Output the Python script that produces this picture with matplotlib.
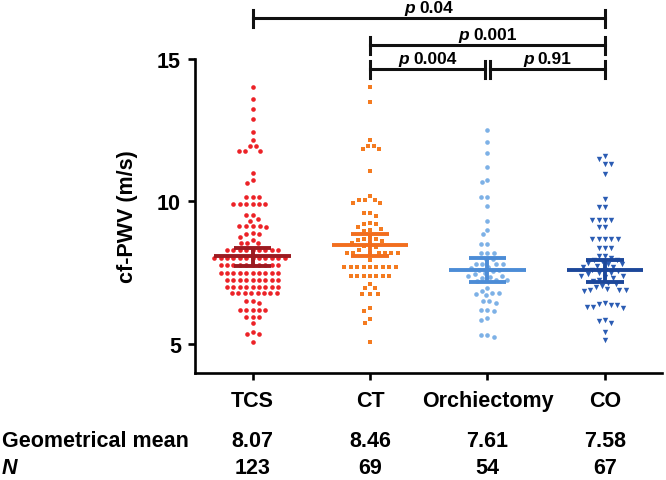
import numpy as np
import matplotlib
matplotlib.use("Agg")
import matplotlib.pyplot as plt
import matplotlib.transforms as mtransforms
from matplotlib.lines import Line2D

plt.rcParams['font.family'] = ['Liberation Sans', 'DejaVu Sans']
plt.rcParams['font.weight'] = 'bold'

# groups and summary rows
groups = ["TCS", "CT", "Orchiectomy", "CO"]
geo_mean = [8.07, 8.46, 7.61, 7.58]
ci_low = [7.73, 8.10, 7.19, 7.19]
ci_high = [8.37, 8.85, 8.00, 7.95]
n_text = ["123", "69", "54", "67"]

# cf-PWV values (m/s)
tcs = [14.0, 13.6, 13.25, 12.9, 12.45, 12.15, 11.95, 11.95, 11.78, 11.78, 11.78, 11.0, 10.75, 10.65,
       10.15, 10.15, 10.15, 9.9, 9.9, 9.9, 9.9, 9.9, 9.9,
       9.52, 9.52, 9.4, 9.32,
       9.14, 9.14, 9.14, 9.14, 9.1, 8.88, 8.85, 8.85,
       8.76, 8.65, 8.53, 8.53, 8.53,
       8.28, 8.28, 8.28, 8.28, 8.28, 8.28, 8.28, 8.28, 8.28,
       8.02, 8.02, 8.02, 8.02, 8.02, 8.02, 8.02, 8.02, 8.02, 8.02, 8.02, 8.02,
       7.76, 7.76, 7.76, 7.76, 7.76, 7.76, 7.76, 7.76, 7.76, 7.76,
       7.5, 7.5, 7.5, 7.5, 7.5, 7.5, 7.5, 7.5, 7.5, 7.5,
       7.25, 7.25, 7.25, 7.25, 7.25, 7.25, 7.25, 7.25, 7.25,
       7.0, 7.0, 7.0, 7.0, 7.0, 7.0, 7.0, 7.0, 7.0,
       6.78, 6.78, 6.78, 6.78, 6.78, 6.78, 6.78, 6.78,
       6.5, 6.5, 6.45,
       6.2, 6.2, 6.2, 6.2, 6.2,
       5.95, 5.95, 5.95,
       5.72, 5.42, 5.34, 5.34, 5.07]

ct = [14.0, 13.5,
      12.17, 11.96, 11.96, 11.83, 11.83, 11.07,
      10.2, 10.05, 10.05, 10.05, 9.94, 9.94,
      9.6, 9.6, 9.5,
      9.25, 9.2, 9.2, 9.1, 9.05, 9.0, 8.95,
      8.75, 8.7, 8.7, 8.65, 8.6, 8.55, 8.5, 8.45, 8.4, 8.3,
      8.2, 8.2, 8.2, 8.2, 8.2, 8.2, 8.2,
      7.95,
      7.7, 7.7, 7.7, 7.7, 7.7, 7.7, 7.7, 7.7, 7.7,
      7.4, 7.4, 7.4, 7.4, 7.4, 7.4, 7.4,
      7.09, 6.95, 6.95,
      6.75, 6.75, 6.75,
      6.26, 6.15, 5.86, 5.72, 5.07]

orchiectomy = [12.5, 12.1, 11.7, 11.2,
               10.76, 10.67, 10.16, 10.16, 9.85, 9.3, 9.0, 8.85, 8.5, 8.5, 8.2, 8.2, 8.2,
               7.98, 7.98, 7.8, 7.8, 7.8, 7.8,
               7.7, 7.65, 7.6, 7.6, 7.55, 7.5, 7.45, 7.4, 7.4, 7.35, 7.3, 7.25, 7.25, 7.2,
               6.95, 6.85, 6.8, 6.8, 6.75, 6.7,
               6.5, 6.5, 6.45,
               6.2, 6.2, 6.15,
               5.9, 5.85,
               5.3, 5.3, 5.25]

co = [11.6, 11.5, 11.3, 11.3, 10.96,
      10.1, 9.8, 9.8,
      9.35, 9.35, 9.35, 9.35, 9.1, 9.1,
      8.7, 8.7, 8.7, 8.7, 8.7,
      8.35, 8.35, 8.35, 8.1, 8.1,
      8.0, 7.95, 7.95, 7.9, 7.85, 7.8, 7.8, 7.75, 7.7, 7.7, 7.6, 7.6, 7.55,
      7.5, 7.5, 7.45, 7.4, 7.4, 7.35, 7.3, 7.25, 7.2, 7.15, 7.1, 7.05, 7.0,
      6.92, 6.9, 6.9, 6.88, 6.85,
      6.45, 6.4, 6.35, 6.35, 6.3, 6.3, 6.25,
      5.85, 5.8, 5.75,
      5.42, 5.13]

series = [tcs, ct, orchiectomy, co]
dot_colors = ["#EC2227", "#F47B20", "#7DB1E6", "#2B5CB3"]
line_colors = ["#9C1B21", "#F26E1E", "#4C8CD6", "#1C479A"]
markers = ["o", "s", "o", "v"]
msizes = [11, 10, 11, 15]

p_vals = [("0.04", 0, 3, 19), ("0.001", 1, 3, 46), ("0.004", 1, 1.975, 70), ("0.91", 2.02, 3, 70)]

W, H = 666, 481
fig = plt.figure(figsize=(W / 100, H / 100), dpi=100)
ax_l, ax_r, ax_t, ax_b = 195, 662, 60, 374
ax = fig.add_axes([ax_l / W, 1 - ax_b / H, (ax_r - ax_l) / W, (ax_b - ax_t) / H])
xlim = (-0.49, 3.486)
ylim = (3.98, 15)
ax.set_xlim(*xlim)
ax.set_ylim(*ylim)
xppu = (ax_r - ax_l) / (xlim[1] - xlim[0])
yppu = (ax_b - ax_t) / (ylim[1] - ylim[0])


def swarm_offsets(vals, dmin=6.4):
    # simple beeswarm in pixel space, returns x offsets in pixels
    vals = np.asarray(vals)
    order = np.argsort(-vals, kind="stable")
    px_list, py_list = [], []
    offs = np.zeros(len(vals))
    for idx in order:
        y = vals[idx] * yppu
        nb = [(px, py) for px, py in zip(px_list, py_list) if abs(py - y) < dmin]
        cands = [0.0]
        for px, py in nb:
            dx = np.sqrt(dmin ** 2 - (py - y) ** 2)
            cands += [px + dx, px - dx]
        cands.sort(key=lambda c: (abs(c), c))
        chosen = cands[-1]
        for c in cands:
            if all((c - px) ** 2 + (y - py) ** 2 >= dmin ** 2 - 1e-6 for px, py in nb):
                chosen = c
                break
        offs[idx] = chosen
        px_list.append(chosen)
        py_list.append(y)
    return offs


for i, vals in enumerate(series):
    offs = swarm_offsets(vals)
    ax.scatter(i + offs / xppu, vals, s=msizes[i], marker=markers[i], color=dot_colors[i],
               linewidths=0, zorder=2, clip_on=False)
    c = line_colors[i]
    ax.plot([i - 0.324, i + 0.324], [geo_mean[i]] * 2, color=c, lw=2.8, solid_capstyle="butt", zorder=3)
    ax.plot([i, i], [ci_low[i], ci_high[i]], color=c, lw=2.8, solid_capstyle="butt", zorder=3)
    for yv in (ci_low[i], ci_high[i]):
        ax.plot([i - 0.16, i + 0.16], [yv, yv], color=c, lw=2.8, solid_capstyle="butt", zorder=3)

for s in ["top", "right"]:
    ax.spines[s].set_visible(False)
for s in ["left", "bottom"]:
    ax.spines[s].set_linewidth(1.9)
ax.set_yticks([5, 10, 15])
ax.set_xticks(range(len(groups)))
ax.set_xticklabels(groups)
ax.tick_params(axis="both", length=5, width=1.9, labelsize=15.5)
ax.tick_params(axis="x", pad=7)
ax.tick_params(axis="y", pad=5)
ax.set_ylabel("cf-PWV (m/s)", fontsize=15.5, fontweight="bold", labelpad=14)

# rows under the axis
trans = mtransforms.blended_transform_factory(ax.transData, fig.transFigure)
fig.text(2 / W, 1 - 447 / H, "Geometrical mean", fontsize=15.5, ha="left", va="baseline")
fig.text(2 / W, 1 - 474 / H, "N", fontsize=15.5, style="italic", ha="left", va="baseline")
for i in range(len(groups)):
    fig.text(i, 1 - 447 / H, f"{geo_mean[i]:.2f}", fontsize=15.5, ha="center", va="baseline", transform=trans)
    fig.text(i, 1 - 474 / H, n_text[i], fontsize=15.5, ha="center", va="baseline", transform=trans)

# significance brackets
renderer = fig.canvas.get_renderer()
for txt, x0, x1, ypx in p_vals:
    y = 1 - ypx / H
    tk = 8.5 / H
    fig.add_artist(Line2D([x0, x1], [y, y], transform=trans, color="#111111", lw=2.2))
    for xe in (x0, x1):
        fig.add_artist(Line2D([xe, xe], [y - tk, y + tk], transform=trans, color="#111111", lw=2.2))
    xc = (x0 + x1) / 2
    yb = 1 - (ypx - 6) / H
    tp = fig.text(xc, yb, "p", fontsize=12.5, style="italic", ha="left", va="baseline", transform=trans)
    tn = fig.text(xc, yb, txt, fontsize=12.5, ha="left", va="baseline", transform=trans)
    wp = tp.get_window_extent(renderer).width
    wn = tn.get_window_extent(renderer).width
    gap = 4
    total = wp + gap + wn
    tp.set_transform(trans + mtransforms.Affine2D().translate(-total / 2, 0))
    tn.set_transform(trans + mtransforms.Affine2D().translate(-total / 2 + wp + gap, 0))

fig.savefig("out.png", dpi=100)
